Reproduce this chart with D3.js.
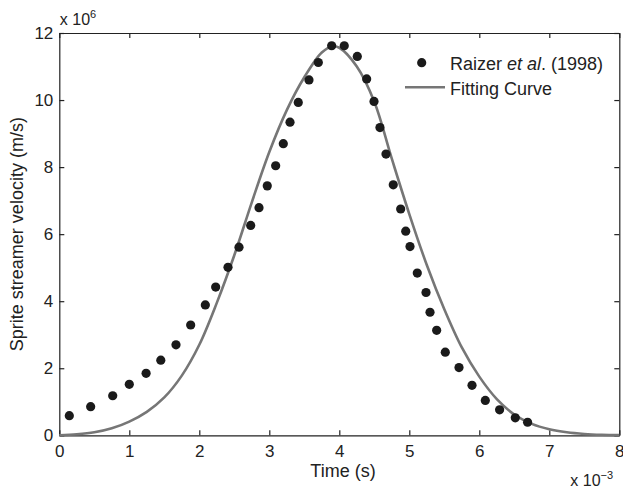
<!DOCTYPE html>
<html>
<head>
<meta charset="utf-8">
<script src="https://cdn.jsdelivr.net/npm/d3@7"></script>
<style>
  body { margin: 0; background: #fff; }
  svg { display: block; font-family: "Liberation Sans", Arial, sans-serif; }
</style>
</head>
<body>
<div id="chart"></div>
<script>
// Raizer et al. (1998) measurements: time in 1e-3 s, velocity in 1e6 m/s
const raizerTime = [0.143, 0.448, 0.763, 1.0, 1.24, 1.45, 1.667, 1.877, 2.086, 2.234, 2.41, 2.567,
    2.734, 2.853, 2.971, 3.091, 3.2, 3.296, 3.414, 3.567, 3.70, 3.891, 4.071, 4.257, 4.391, 4.496,
    4.581, 4.667, 4.771, 4.877, 4.949, 5.01, 5.114, 5.239, 5.296, 5.391, 5.514, 5.71, 5.896, 6.086,
    6.29, 6.514, 6.69];
const raizerVelocity = [0.585, 0.855, 1.18, 1.52, 1.85, 2.24, 2.70, 3.29, 3.89, 4.42, 5.01, 5.61,
    6.26, 6.79, 7.44, 8.04, 8.70, 9.34, 9.93, 10.6, 11.12, 11.62, 11.62, 11.30, 10.63, 9.96,
    9.18, 8.39, 7.47, 6.75, 6.09, 5.63, 4.84, 4.26, 3.67, 3.13, 2.48, 2.02, 1.49, 1.04,
    0.76, 0.52, 0.39];

// fitting curve
const fitTime = [0, 0.25, 0.5, 0.75, 1.0, 1.25, 1.5, 1.75, 2.0, 2.25, 2.5, 2.75, 3.0, 3.25, 3.5,
    3.75, 3.9, 4.0, 4.25, 4.5, 4.75, 5.0, 5.25, 5.5, 5.75, 6.0, 6.25, 6.5, 6.75, 7.0, 7.25, 7.5,
    7.75, 8.0];
const fitVelocity = [0, 0.03, 0.09, 0.21, 0.41, 0.7, 1.13, 1.78, 2.7, 3.95, 5.37, 6.95, 8.45, 9.7, 10.68,
    11.42, 11.6, 11.56, 11.0, 9.95, 8.25, 6.6, 5.08, 3.76, 2.62, 1.75, 1.08, 0.62, 0.34, 0.18, 0.09, 0.04,
    0.015, 0.005];

const xTicks = [0, 1, 2, 3, 4, 5, 6, 7, 8];
const yTicks = [0, 2, 4, 6, 8, 10, 12];

const margin = { top: 33, right: 3.7, bottom: 52.7, left: 59.3 },
      width = 623 - margin.left - margin.right,
      height = 488 - margin.top - margin.bottom;

const svg = d3.select("#chart")
    .append("svg")
    .attr("width", 623)
    .attr("height", 488)
  .append("g")
    .attr("transform", `translate(${margin.left},${margin.top})`);

const x = d3.scaleLinear().domain([0, 8]).range([0, width]);
const y = d3.scaleLinear().domain([0, 12]).range([height, 0]);

const axisColor = "#222";
const styleAxis = g => {
    g.select(".domain").attr("stroke", axisColor).attr("stroke-width", 1.2);
    g.selectAll(".tick line").attr("stroke", axisColor).attr("stroke-width", 1.2);
    g.selectAll(".tick text").attr("fill", "#222").style("font-size", "17px");
};

// bottom / left with labels, top / right ticks only
svg.append("g")
    .attr("transform", `translate(0,${height})`)
    .call(d3.axisBottom(x).tickValues(xTicks).tickSizeInner(-5).tickSizeOuter(0).tickPadding(10))
    .call(styleAxis);

svg.append("g")
    .call(d3.axisLeft(y).tickValues(yTicks).tickSizeInner(-5).tickSizeOuter(0).tickPadding(6))
    .call(styleAxis);

svg.append("g")
    .call(d3.axisTop(x).tickValues(xTicks).tickSizeInner(-5).tickSizeOuter(0).tickFormat(""))
    .call(styleAxis);

svg.append("g")
    .attr("transform", `translate(${width},0)`)
    .call(d3.axisRight(y).tickValues(yTicks).tickSizeInner(-5).tickSizeOuter(0).tickFormat(""))
    .call(styleAxis);

// fitting curve
const fitData = fitTime.map((t, i) => ({ t: t, v: fitVelocity[i] }));
const line = d3.line()
    .x(d => x(d.t))
    .y(d => y(d.v))
    .curve(d3.curveCatmullRom.alpha(0.5));

svg.append("path")
    .datum(fitData)
    .attr("fill", "none")
    .attr("stroke", "#767676")
    .attr("stroke-width", 2.6)
    .attr("d", line);

// measured points
const raizerData = raizerTime.map((t, i) => ({ t: t, v: raizerVelocity[i] }));
svg.selectAll("circle.pt")
    .data(raizerData)
    .enter()
    .append("circle")
    .attr("class", "pt")
    .attr("cx", d => x(d.t))
    .attr("cy", d => y(d.v))
    .attr("r", 4.6)
    .attr("fill", "#1a1a1a");

// legend
const legend = svg.append("g").attr("transform", `translate(${421.7 - margin.left},${62.7 - margin.top})`);
legend.append("circle").attr("cx", 0).attr("cy", 0).attr("r", 4.6).attr("fill", "#1a1a1a");
legend.append("text")
    .attr("x", 28.3).attr("y", 7.3)
    .style("font-size", "18px").attr("fill", "#222")
    .html('Raizer <tspan font-style="italic">et al</tspan>. (1998)');
legend.append("line")
    .attr("x1", -16.7).attr("x2", 23.3).attr("y1", 24.6).attr("y2", 24.6)
    .attr("stroke", "#767676").attr("stroke-width", 2.6);
legend.append("text")
    .attr("x", 28.3).attr("y", 32.3)
    .style("font-size", "18px").attr("fill", "#222")
    .text("Fitting Curve");

// exponent labels
svg.append("text")
    .attr("x", 0.5).attr("y", -8)
    .style("font-size", "16px").attr("fill", "#222")
    .html('x 10<tspan dy="-7" style="font-size:11px">6</tspan>');

svg.append("text")
    .attr("x", 511).attr("y", height + 51)
    .style("font-size", "16px").attr("fill", "#222")
    .html('x 10<tspan dy="-7" style="font-size:11px">−3</tspan>');

// X Axis Label
svg.append("text")
    .attr("text-anchor", "middle")
    .attr("x", 283.7)
    .attr("y", height + 41.5)
    .style("font-size", "18px")
    .style("fill", "#222")
    .text("Time (s)");

// Y Axis Label
svg.append("text")
    .attr("text-anchor", "middle")
    .attr("transform", "rotate(-90)")
    .attr("x", -height / 2)
    .attr("y", -margin.left + 23)
    .style("font-size", "18px")
    .style("fill", "#222")
    .text("Sprite streamer velocity (m/s)");
</script>
</body>
</html>
